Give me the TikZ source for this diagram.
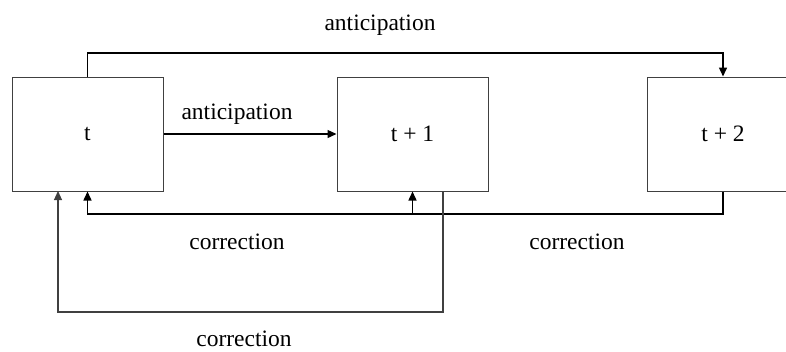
\documentclass[tikz,border=0pt]{standalone}
\usepackage{fontspec}
\setmainfont{Liberation Serif}
\usetikzlibrary{arrows.meta}
\begin{document}
\begin{tikzpicture}[x=1pt,y=-1pt,
  box/.style={draw=black!75,line width=1pt,minimum width=151pt,minimum height=114pt,inner sep=0pt},
  conn/.style={draw=black,line width=1.5pt},
  thin/.style={draw=black!75,line width=1.1pt},
  tip/.style={-{Triangle[length=9pt,width=8pt]}},
  lab/.style={inner sep=0pt,font=\fontsize{23.5}{28}\selectfont}]
\useasboundingbox (0,0) rectangle (786,351);
\clip (0,0) rectangle (786,351);
\node[box,lab] (t) at (87.5,134) {t};
\node[box,lab] (t1) at (412.5,134) {t + 1};
\node[box,lab] (t2) at (723,134) {t + 2};
\coordinate (topy) at (0,53);
\coordinate (coy) at (0,214);
\coordinate (boty) at (0,312);
\coordinate (b1) at (443,191);
\coordinate (b2) at (58,191);
\draw[conn,tip] (t.north) -- (t.north |- topy) -| (t2.north);
\draw[conn,line width=1.3pt,tip] (t.east) -- (t1.west);
\draw[conn,tip] (t2.south) -- (t2.south |- coy) -| (t.south);
\draw[conn,tip] (t1.south |- coy) -- (t1.south);
\draw[thin,tip] (b1) -- (b1 |- boty) -| (b2);
\node[lab] (l1) at (380,25) {anticipation};
\node[lab] (l2) at (237,114) {anticipation};
\node[lab] (l3) at (237,242) {correction};
\node[lab] (l4) at (577,242) {correction};
\node[lab] (l5) at (244,339) {correction};
\end{tikzpicture}
\end{document}
